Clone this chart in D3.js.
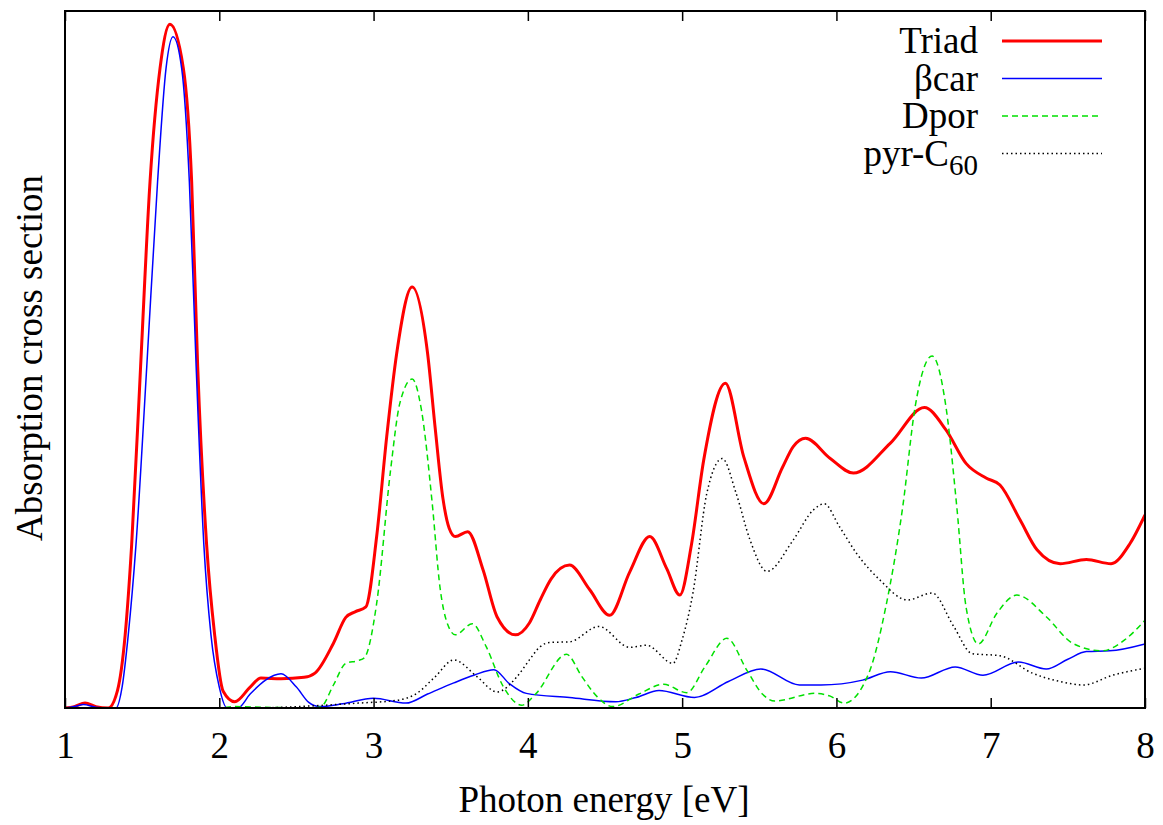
<!DOCTYPE html>
<html>
<head>
<meta charset="utf-8">
<script src="https://cdn.jsdelivr.net/npm/d3@7"></script>
<style>
  body { margin: 0; background: #fff; }
  text { font-family: "Liberation Serif", "Times New Roman", serif; }
</style>
</head>
<body>
<div id="chart"></div>
<script>
// spectra: [photon energy (eV), cross section (arb. units)]
var triad = [
  [1.0,0],[1.06,0.002],[1.13,0.007],[1.2,0.002],[1.28,0],[1.34,0.025],[1.39,0.105],[1.432,0.234],
  [1.49,0.49],[1.551,0.755],[1.616,0.918],[1.68,0.981],[1.767,0.918],[1.821,0.755],[1.86,0.49],
  [1.918,0.234],[1.97,0.105],[2.025,0.024],[2.1,0.009],[2.2,0.03],[2.27,0.043],[2.4,0.042],
  [2.55,0.044],[2.62,0.05],[2.74,0.093],[2.82,0.13],[2.88,0.138],[2.95,0.145],[3.02,0.246],
  [3.085,0.389],[3.15,0.509],[3.25,0.604],[3.35,0.509],[3.40,0.40],[3.45,0.30],[3.49,0.258],
  [3.53,0.246],[3.61,0.253],[3.71,0.198],[3.80,0.131],[3.92,0.105],[4.01,0.122],[4.08,0.155],
  [4.15,0.185],[4.27,0.205],[4.40,0.17],[4.53,0.133],[4.66,0.195],[4.79,0.246],[4.9,0.2],
  [4.985,0.162],[5.06,0.234],[5.14,0.356],[5.28,0.466],[5.40,0.36],[5.53,0.293],[5.65,0.345],
  [5.72,0.375],[5.80,0.387],[5.96,0.358],[6.11,0.337],[6.35,0.38],[6.57,0.431],[6.71,0.399],
  [6.84,0.351],[6.97,0.33],[7.06,0.32],[7.19,0.27],[7.30,0.227],[7.45,0.207],[7.62,0.213],
  [7.78,0.207],[7.9,0.235],[8.0,0.277]
];
var bcar = [
  [1.0,0],[1.06,0.002],[1.12,0.005],[1.2,0.001],[1.25,0],[1.33,0],[1.37,0.03],[1.41,0.105],
  [1.46,0.234],[1.53,0.49],[1.60,0.755],[1.655,0.918],[1.70,0.963],[1.756,0.918],[1.806,0.755],
  [1.85,0.49],[1.90,0.234],[1.946,0.105],[2.0,0.03],[2.05,0],[2.12,0],[2.2,0.02],[2.3,0.04],
  [2.40,0.049],[2.5,0.03],[2.58,0.008],[2.65,0.002],[2.8,0.006],[3.0,0.014],[3.21,0.007],
  [3.35,0.02],[3.52,0.036],[3.65,0.047],[3.78,0.055],[3.88,0.035],[3.99,0.021],[4.27,0.015],
  [4.57,0.009],[4.70,0.015],[4.85,0.025],[5.08,0.015],[5.3,0.038],[5.51,0.056],[5.76,0.033],
  [5.9,0.033],[6.17,0.040],[6.35,0.052],[6.55,0.043],[6.77,0.059],[6.95,0.047],[7.18,0.066],
  [7.36,0.056],[7.5,0.07],[7.62,0.081],[7.77,0.082],[8.0,0.092]
];
var dpor = [
  [1.0,0],[2.0,0],[2.1,0.002],[2.3,0.001],[2.6,0],[2.66,0.002],[2.74,0.033],[2.82,0.064],
  [2.90,0.068],[2.94,0.072],[3.02,0.15],[3.11,0.341],[3.17,0.437],[3.25,0.472],[3.31,0.428],
  [3.38,0.294],[3.43,0.174],[3.48,0.12],[3.53,0.105],[3.64,0.121],[3.73,0.088],[3.84,0.031],
  [3.96,0.004],[4.05,0.02],[4.25,0.077],[4.35,0.045],[4.45,0.016],[4.55,0.002],[4.72,0.02],
  [4.88,0.034],[5.03,0.022],[5.15,0.06],[5.29,0.100],[5.42,0.054],[5.52,0.02],[5.60,0.010],
  [5.86,0.021],[5.96,0.017],[6.05,0.007],[6.21,0.050],[6.32,0.145],[6.43,0.289],[6.51,0.432],
  [6.62,0.505],[6.71,0.432],[6.78,0.289],[6.84,0.145],[6.92,0.092],[7.04,0.136],[7.17,0.162],
  [7.36,0.131],[7.53,0.093],[7.72,0.082],[7.87,0.098],[8.0,0.126]
];
var pyrc60 = [
  [1.0,0],[2.2,0],[2.6,0.003],[2.9,0.007],[3.15,0.011],[3.28,0.021],[3.40,0.045],[3.52,0.069],
  [3.67,0.045],[3.80,0.023],[3.93,0.045],[4.01,0.069],[4.08,0.088],[4.14,0.094],[4.27,0.095],
  [4.46,0.117],[4.66,0.087],[4.77,0.090],[4.94,0.064],[5.0,0.098],[5.07,0.165],[5.16,0.308],
  [5.26,0.358],[5.35,0.308],[5.44,0.241],[5.55,0.196],[5.72,0.241],[5.85,0.284],[5.92,0.293],
  [6.02,0.260],[6.13,0.222],[6.28,0.184],[6.46,0.155],[6.62,0.165],[6.76,0.117],[6.88,0.078],
  [7.06,0.075],[7.27,0.050],[7.45,0.038],[7.60,0.033],[7.79,0.047],[8.0,0.057]
];
var xTicks = [1, 2, 3, 4, 5, 6, 7, 8];
var seriesNames = ["Triad", "\u03b2car", "Dpor", "pyr-C"];

var width = 1163, height = 825;
var fs = 37;
var x = d3.scaleLinear().domain([1, 8]).range([65, 1145]);
var y = d3.scaleLinear().domain([0, 1]).range([708, 11]);

var svg = d3.select("#chart").append("svg").attr("width", width).attr("height", height);

var series = [
  {name: seriesNames[0], data: triad, color: "#ff0000", w: 3, dash: null},
  {name: seriesNames[1], data: bcar, color: "#0000ff", w: 1.5, dash: null},
  {name: seriesNames[2], data: dpor, color: "#00e000", w: 1.5, dash: "6,4"},
  {name: seriesNames[3], data: pyrc60, color: "#000000", w: 1.5, dash: "1.5,3"}
];

var line = d3.line().x(function(d){ return x(d[0]) }).y(function(d){ return y(d[1]) }).curve(d3.curveMonotoneX);

svg.append("clipPath").attr("id", "clip").append("rect")
  .attr("x", 65).attr("y", 11).attr("width", 1080).attr("height", 697);

// draw in gnuplot order, triad on the bottom
var g = svg.append("g").attr("clip-path", "url(#clip)");
series.forEach(function(s){
  g.append("path").datum(s.data)
    .attr("d", line).attr("fill", "none")
    .attr("stroke", s.color).attr("stroke-width", s.w)
    .attr("stroke-dasharray", s.dash)
    .attr("stroke-linejoin", "round");
});

// axes, ticks pointing inward, mirrored on top
var xAxis = d3.axisBottom(x).tickValues(xTicks).tickFormat(d3.format("d"))
  .tickSize(-10).tickSizeOuter(0).tickPadding(24);
var ax = svg.append("g").attr("transform", "translate(0,708)").call(xAxis);
ax.select(".domain").remove();
ax.selectAll("line").attr("stroke-width", 1.5);
ax.selectAll("text").attr("font-size", fs).attr("fill", "#000")
  .style("font-family", '"Liberation Serif", serif');

var axTop = svg.append("g").attr("transform", "translate(0,11)")
  .call(d3.axisTop(x).tickValues(xTicks).tickSize(-10).tickSizeOuter(0).tickFormat(""));
axTop.select(".domain").remove();
axTop.selectAll("line").attr("stroke-width", 1.5);

svg.append("rect").attr("x", 65).attr("y", 11).attr("width", 1080).attr("height", 697)
  .attr("fill", "none").attr("stroke", "#000").attr("stroke-width", 2);

svg.append("text").attr("x", 604).attr("y", 812).attr("text-anchor", "middle")
  .attr("font-size", fs).text("Photon energy [eV]");
svg.append("text").attr("transform", "translate(42,358) rotate(-90)").attr("text-anchor", "middle")
  .attr("font-size", fs).text("Absorption cross section");

// legend
var leg = svg.append("g");
series.forEach(function(s, i){
  var yy = 41 + i * 37.5;
  var t = leg.append("text").attr("x", 978).attr("y", yy + 12).attr("text-anchor", "end")
    .attr("font-size", fs).text(s.name);
  if (i === 3) {
    t.append("tspan").attr("dy", 9).attr("font-size", 29).text("60");
  }
  leg.append("line").attr("x1", 1002).attr("x2", 1102).attr("y1", yy).attr("y2", yy)
    .attr("stroke", s.color).attr("stroke-width", s.w).attr("stroke-dasharray", s.dash);
});
</script>
</body>
</html>
